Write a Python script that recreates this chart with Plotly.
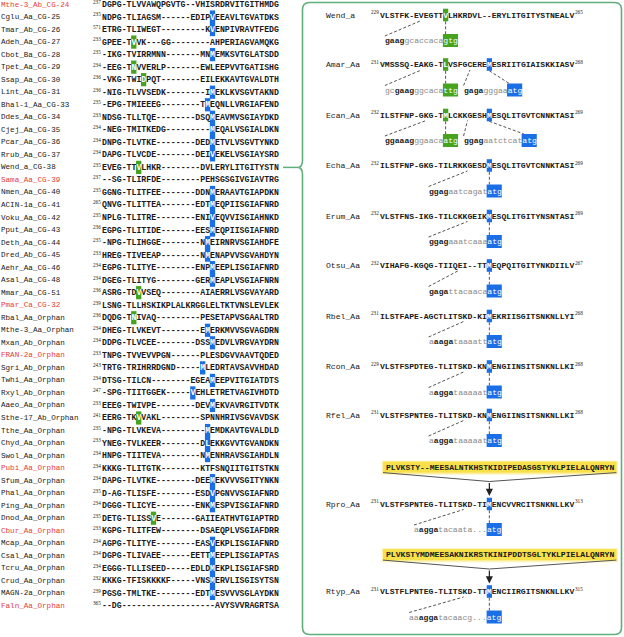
import plotly.graph_objects as go

# ---------------- data: left alignment ----------------
L_NAMES = ["Mthe-3_Ab_CG-24", "Cglu_Aa_CG-25", "Tmar_Ab_CG-26", "Adeh_Aa_CG-27", "Cbot_Ba_CG-28",
           "Tpet_Aa_CG-29", "Ssap_Aa_CG-30", "Lint_Aa_CG-31", "Bhal-1_Aa_CG-33", "Ddes_Aa_CG-34",
           "Cjej_Aa_CG-35", "Pcar_Aa_CG-36", "Rrub_Aa_CG-37", "Wend_a_CG-38", "Sama_Aa_CG-39",
           "Nmen_Aa_CG-40", "ACIN-1a_CG-41", "Voku_Aa_CG-42", "Pput_Aa_CG-43", "Deth_Aa_CG-44",
           "Dred_Ab_CG-45", "Aehr_Aa_CG-46", "Asal_Aa_CG-48", "Mmar_Aa_CG-51", "Pmar_Ca_CG-32",
           "Rbal_Aa_Orphan", "Mthe-3_Aa_Orphan", "Mxan_Ab_Orphan", "FRAN-2a_Orphan", "Sgri_Ab_Orphan",
           "Twhi_Aa_Orphan", "Rxyl_Ab_Orphan", "Aaeo_Aa_Orphan", "Sthe-17_Ab_Orphan", "Tthe_Aa_Orphan",
           "Chyd_Aa_Orphan", "Swol_Aa_Orphan", "Pubi_Aa_Orphan", "Sfum_Aa_Orphan", "Phal_Aa_Orphan",
           "Ping_Aa_Orphan", "Dnod_Aa_Orphan", "Cbur_Aa_Orphan", "Mcap_Aa_Orphan", "Csal_Aa_Orphan",
           "Tcru_Aa_Orphan", "Crud_Aa_Orphan", "MAGN-2a_Orphan", "Faln_Aa_Orphan"]
L_RED = ["Mthe-3_Ab_CG-24", "Sama_Aa_CG-39", "Pmar_Ca_CG-32", "FRAN-2a_Orphan",
         "Pubi_Aa_Orphan", "Cbur_Aa_Orphan", "Faln_Aa_Orphan"]
L_START = [237, 235, 571, 233, 235, 234, 236, 236, 235, 233, 234, 234, 234, 235, 237, 235, 265,
           235, 236, 235, 233, 234, 234, 236, 239, 236, 234, 234, 233, 243, 234, 247, 233, 241,
           235, 233, 234, 234, 234, 235, 234, 235, 233, 234, 234, 234, 232, 239, 365]
L_SEQS = [
    "DGPG-TLVVAWQPGVTG--VHISRDRVITGITHMDG",
    "NDPG-TLIAGSM------EDIPVEEAVLTGVATDKS",
    "ETRG-TLIWEGT---------KVENPIVRAVTFEDG",
    "GPEE-TVVK---GG--------AHPERIAGVAMQKG",
    "-IKG-TVIRRMNN-------MNMEMKSVTGLATSDD",
    "-EEG-TNVVERLP-------EWLEEPVVTGATISHG",
    "-VKG-TWIDPQT--------EILEKKAVTGVALDTH",
    "-NIG-TLVVSEDK--------IMEKLKVSGVTAKND",
    "-EPG-TMIEEEG--------TMEQNLLVRGIAFEND",
    "NDSG-TLLTQE--------DSQMEAVMVSGIAYDKD",
    "-NEG-TMITKEDG---------MEQALVSGIALDKN",
    "DNPG-TLVTKE--------DEDMETVLVSGVTYNKD",
    "DAPG-TLVCDE--------DEIVEKELVSGIAYSRD",
    "EVEG-TTVLHKR--------DVLERYLITGITYSTN",
    "--SG-TLIRFDE--------PEHSGSGIVGIAVTRG",
    "GGNG-TLITFEE-------DDNMERAAVTGIAPDKN",
    "QNVG-TLITTEA-------EDTMEQPIISGIAFNRD",
    "NPLG-TLITRE--------ENIVEQVVISGIAHNKD",
    "EGPG-TLITIDE-------EESMEQPIISGIAFNRD",
    "-NPG-TLIHGGE--------NMEIRNRVSGIAHDFE",
    "HREG-TIVEEAP--------NMENAPVVSGVAHDYN",
    "EGPG-TLITYE--------ENPMEEPLISGIAFNRD",
    "DGEG-TLITYG--------GERMEAPLVSGIAFNRN",
    "ASRG-TDVVSEQ--------AIAERRLVSGVAYARD",
    "LSNG-TLLHSKIKPLALKRGGLELTKTVNSLEVLEK",
    "DQDG-TNIVAQ---------PESETAPVSGAALTRD",
    "DHEG-TLVKEVT--------EMERKMVVSGVAGDRN",
    "DDPG-TLVCEE--------DSSMEDVLVRGVAYDRN",
    "TNPG-TVVEVVPGN------PLESDGVVAAVTQDED",
    "TRTG-TRIHRRDGND-----MLEDRTAVSAVVHDAD",
    "DTSG-TILCN--------EGEAMEEPVITGIATDTS",
    "-SPG-TIITGGEK-----VEHLETRETVAGIVHDTD",
    "EEEG-TWIVPE--------DEVMEKVAVRGITVDTK",
    "EERG-TKVVAKL--------SPNNHRIVSGVAVDSK",
    "-NPG-TLVKEVA---------MEMDKAVTGVALDLD",
    "YNEG-TVLKEER--------DLEKKGVVTGVANDKN",
    "HNPG-TIITEVA--------NMENHRAVSGIAHDLN",
    "KKKG-TLITGTK--------KTFSNQIITGITSTKN",
    "DAPG-TLVTKE--------DEEMEKVVVSGITYNKN",
    "D-AG-TLISFE--------ESDVPGNVVSGIAFNRD",
    "DGGG-TLICYE--------ENKMESPVISGIAFNRD",
    "DETG-TLISSVE-------GAIIEATHVTGIAPTRD",
    "KGPG-TLITFEW--------DSAEQPLVSGIAFDRR",
    "AGPG-TLITYE--------EASVEKPLISGIAFNRD",
    "DGPG-TLIVAEE------EETTMEEPLISGIAPTAS",
    "EGGG-TLLISEED-----EDLDMEKPLISGIAFSRD",
    "KKKG-TFISKKKKF-----VNSMERVLISGISYTSN",
    "PGSG-TMLTKE--------EDTMESVVVSGLAYDKN",
    "--DG-------------------AVYSVVRAGRTSA",
]
# highlighted start residue: (kind, column) ; B = ATG start (blue), G = alternative start (green)
L_MARK = [None, ("B", 22), ("B", 22), ("G", 6), ("B", 22), ("G", 6), ("G", 8), ("B", 22), ("B", 21),
          ("B", 22), ("B", 22), ("B", 22), ("B", 22), ("G", 7), None, ("B", 22), ("B", 22), ("B", 22),
          ("B", 22), ("B", 21), ("B", 21), ("B", 22), ("B", 22), ("G", 7), None, ("G", 6), ("B", 21),
          ("B", 22), None, ("B", 20), ("B", 22), ("B", 18), ("B", 22), ("G", 7), ("B", 21), ("B", 21),
          ("B", 21), None, ("B", 22), ("B", 22), ("B", 22), ("G", 10), None, ("B", 22), ("B", 22),
          ("B", 22), ("B", 22), ("B", 22), None]

# ---------------- data: right panel ----------------
R_NAMES = ["Wend_a", "Amar_Aa", "Ecan_Aa", "Echa_Aa", "Erum_Aa", "Otsu_Aa", "Rbel_Aa",
           "Rcon_Aa", "Rfel_Aa", "Rpro_Aa", "Rtyp_Aa"]
R_START = [229, 231, 232, 232, 232, 232, 231, 229, 231, 231, 231]
R_END = [265, 268, 269, 269, 269, 267, 268, 268, 268, 313, 315]
R_SEQS = [
    "VLSTFK-EVEGTTVLHKRDVL--ERYLITGITYSTNEALV",
    "VMSSSQ-EAKG-TLVSFGCEREMESRIITGIAISKKIASV",
    "ILSTFNP-GKG-TMLCKKGESHMESQLITGVTCNNKTASI",
    "ILSTFNP-GKG-TILRKKGESDMESQLITGVTCNNKTASI",
    "VLSTFNS-IKG-TILCKKGEIKMESQLITGITYNSNTASI",
    "VIHAFG-KGQG-TIIQEI--TTMEQPQITGITYNKDIILV",
    "ILSTFAPE-AGCTLITSKD-KIMEKRIISGITSNKNLLYI",
    "VLSTFSPDTEG-TLITSKD-KNMENGIINSITSNKNLLKI",
    "VLSTFSPNTEG-TLITSKD-KNMENGIINSITSNKNLLKI",
    "VLSTFSPNTEG-TLITSKD-TIMENCVVRCITSNKNLLKV",
    "VLSTFLPNTEG-TLITSKD-TTMENCIIRGITSNKNLLKV",
]
R_MARKS = [[("G", 13)], [("G", 13), ("B", 22)], [("G", 13), ("B", 22)], [("B", 22)], [("B", 22)],
           [("B", 22)], [("B", 22)], [("B", 22)], [("B", 22)], [("B", 22)], [("B", 22)]]
# upstream nucleotides: (grey prefix, SD bold, grey spacer, start codon, kind, codon column, SD link column, residue col)
R_SITES = [
    [("", "gaag", "gcaccaca", "gtg", "G", 13, 8.5, 13)],
    [("gc", "gaag", "ggcaca", "ttg", "G", 13, 8.5, 13), ("", "gaga", "gggaa", "atg", "B", 26.2, 18.5, 22)],
    [("", "ggaaag", "ggaaca", "atg", "G", 13, 9.5, 13), ("", "ggag", "aatctcat", "atg", "B", 29.2, 18.0, 22)],
    [("", "ggag", "aatcagat", "atg", "B", 22, 18.0, 22)],
    [("", "ggag", "aaatcaaa", "atg", "B", 22, 18.0, 22)],
    [("", "gaga", "ttacaaca", "atg", "B", 22, 16.0, 22)],
    [("a", "aaga", "taaaatt", "atg", "B", 22, 17.2, 22)],
    [("a", "agga", "taaaaat", "atg", "B", 22, 17.2, 22)],
    [("a", "agga", "taaaaat", "atg", "B", 22, 17.2, 22)],
    [("a", "agga", "tacaata...", "atg", "B", 22, 17.2, 22)],
    [("aa", "agga", "tacaacg...", "atg", "B", 22, 17.2, 22)],
]
R_INSERTS = {9: "PLVKSTY--MEESALNTKHSTKIDIPEDASGSTYKLPIELALQNRYN",
             10: "PLVKSTYMDMEESAKNIKRSTKINIPDDTSGLTYKLPIELALQNRYN"}

# ---------------- styling / layout ----------------
MONO = "Liberation Mono, Courier New, monospace"
SERIF = "Liberation Serif, Times New Roman, serif"
BLUE = "#1a6fe6"
GREEN = "#45a31f"
RED = "#e5403a"
PANEL = "#62ad7c"
GREY = "#8a8a8a"
INK = "#1a1a1a"
COLORS = {"B": BLUE, "G": GREEN}

FS_L = 8.2
CW_L = FS_L * 0.6
X0_L = 101.8
Y0_L = 4.5
DY_L = 12.53

FS_R = 8.1
CW_R = FS_R * 0.6
X0_R = 380.0
R_Y = [15, 64.5, 115, 165.5, 216, 265.5, 316, 366.5, 415, 504, 591.5]
NUC_DY = 25.5

anns = []
shapes = []


def add_text(x, y, s, size, color, xanchor="left", family=MONO, yanchor="middle"):
    anns.append(dict(x=x, y=y, xref="x", yref="y", text=s, showarrow=False,
                     xanchor=xanchor, yanchor=yanchor, borderpad=0, borderwidth=0,
                     font=dict(family=family, size=size, color=color)))


def add_rect(x0, x1, y0, y1, color, layer="below", line=None):
    shapes.append(dict(type="rect", xref="x", yref="y", x0=x0, x1=x1, y0=y0, y1=y1,
                       fillcolor=color, line=line or dict(width=0), layer=layer))


def add_line(x0, y0, x1, y1, color="#555555", width=1, dash="3px,2px"):
    shapes.append(dict(type="line", xref="x", yref="y", x0=x0, y0=y0, x1=x1, y1=y1,
                       line=dict(color=color, width=width, dash=dash)))


def marked(seq, cols):
    out = ""
    for i, ch in enumerate(seq):
        out += '<span style="color:#ffffff">' + ch + '</span>' if i in cols else ch
    return "<b>" + out + "</b>"


# left alignment
for i, (name, st, seq, mk) in enumerate(zip(L_NAMES, L_START, L_SEQS, L_MARK)):
    y = Y0_L + i * DY_L
    add_text(0.5, y, name, 7.6, RED if name in L_RED else INK)
    add_text(X0_L - 0.6, y - 2.6, str(st), 5.2, INK, xanchor="right", family=SERIF)
    cols = []
    if mk is not None:
        kind, c = mk
        cols.append(c)
        add_rect(X0_L + c * CW_L - 0.2, X0_L + (c + 1) * CW_L + 0.2, y - 6.6, y + 6.6, COLORS[kind])
    add_text(X0_L, y, marked(seq, cols), FS_L, INK)

# connector from Wend row to the panel
yW = Y0_L + L_NAMES.index("Wend_a_CG-38") * DY_L
add_line(283, yW, 298.5, yW, color=PANEL, width=1.5, dash="solid")

# panel outline with notch
L, R, T, B, r = 302.5, 621.5, 2.5, 634.5, 7
path = (f"M {L + r},{T} L {R - r},{T} Q {R},{T} {R},{T + r} L {R},{B - r} Q {R},{B} {R - r},{B} "
        f"L {L + r},{B} Q {L},{B} {L},{B - r} L {L},{yW + 7} Q {L},{yW + 1} {L - 4},{yW} "
        f"Q {L},{yW - 1} {L},{yW - 7} L {L},{T + r} Q {L},{T} {L + r},{T} Z")
shapes.append(dict(type="path", xref="x", yref="y", path=path,
                   line=dict(color=PANEL, width=1.6), fillcolor="rgba(0,0,0,0)"))

# right panel
for k, name in enumerate(R_NAMES):
    ys = R_Y[k]
    yn = ys + NUC_DY
    seq = R_SEQS[k]
    add_text(326, ys, name, FS_R, INK)
    add_text(X0_R - 0.6, ys - 2.6, str(R_START[k]), 5.2, INK, xanchor="right", family=SERIF)
    add_text(X0_R + len(seq) * CW_R + 0.4, ys - 2.6, str(R_END[k]), 5.2, INK, family=SERIF)
    cols = []
    for kind, c in R_MARKS[k]:
        cols.append(c)
        add_rect(X0_R + c * CW_R - 0.2, X0_R + (c + 1) * CW_R + 0.2, ys - 6.3, ys + 6.3, COLORS[kind])
    add_text(X0_R, ys, marked(seq, cols), FS_R, INK)

    for pre, sd, spc, codon, kind, ccol, lcol, rcol in R_SITES[k]:
        nstart = ccol - len(pre + sd + spc)
        xs = X0_R + nstart * CW_R
        xc = X0_R + ccol * CW_R
        add_rect(xc - 0.3, xc + 3 * CW_R + 0.3, yn - 6.5, yn + 6.5, COLORS[kind])
        html = ""
        if pre:
            html += f'<span style="color:{GREY}">{pre}</span>'
        html += f'<b>{sd}</b>'
        html += f'<span style="color:{GREY}">{spc}</span>'
        html += f'<span style="color:#ffffff">{codon}</span>'
        add_text(xs, yn, html, FS_R, INK)
        # SD link
        add_line(xs, yn - 4.5, X0_R + lcol * CW_R, ys + 5.5)
        # start residue link
        xr = X0_R + (rcol + 0.5) * CW_R
        if abs(ccol - rcol) < 0.01:
            add_line(xr, ys + 6.3, xr, yn - 6.5)
        else:
            add_line(xr, ys + 6.3, xc + 2, yn - 6.5)

    if k in R_INSERTS:
        ins = R_INSERTS[k]
        yb = ys - 37
        bx0 = 383.0
        bx1 = bx0 + len(ins) * CW_R + 5
        add_rect(bx0 - 1.5, bx1 + 1.5, yb - 6.5, yb + 8, "rgba(248,226,74,0.28)")
        add_rect(bx0 - 0.5, bx1 + 0.5, yb - 5.8, yb + 6.8, "rgba(248,226,74,0.45)")
        add_rect(bx0, bx1, yb - 5.2, yb + 5.6, "#f7e04a")
        add_text(bx0 + 2.5, yb + 0.2, "<b>" + ins + "</b>", FS_R, INK)
        fx = X0_R + 22.5 * CW_R
        fy = ys - 22.5
        add_line(bx0, yb + 5.6, fx, fy, color="#555555", width=1, dash="solid")
        add_line(bx1, yb + 5.6, fx, fy, color="#555555", width=1, dash="solid")
        anns.append(dict(x=fx, y=ys - 8, ax=fx, ay=fy, xref="x", yref="y", axref="x", ayref="y",
                         showarrow=True, arrowhead=2, arrowsize=1.2, arrowwidth=1.2,
                         arrowcolor="#222222", text=""))

fig = go.Figure()
fig.add_trace(go.Scatter(x=[0, 624], y=[0, 637], mode="markers", marker=dict(opacity=0),
                         hoverinfo="skip", showlegend=False))
fig.update_layout(
    width=624, height=637, margin=dict(l=0, r=0, t=0, b=0),
    paper_bgcolor="white", plot_bgcolor="white", showlegend=False,
    xaxis=dict(range=[0, 624], visible=False, fixedrange=True),
    yaxis=dict(range=[637, 0], visible=False, fixedrange=True),
    annotations=anns, shapes=shapes,
)
fig.write_html("out.html", config={"displayModeBar": False},
               post_script="document.body.style.margin='0';document.body.style.overflow='hidden';")
